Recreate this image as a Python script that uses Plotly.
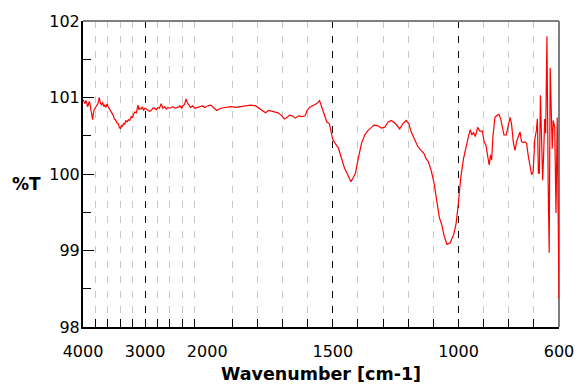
import plotly.graph_objects as go

# High-wavenumber region (4000-2000 cm-1), compressed scale
wn_hi = [4000, 3984, 3968, 3955, 3941, 3928, 3915, 3900, 3888, 3875, 3861, 3845, 3835, 3824,
         3805, 3781, 3760, 3739, 3728, 3717, 3700, 3685, 3665, 3648, 3630, 3611, 3595, 3579,
         3560, 3541, 3528, 3515, 3495, 3472, 3455, 3435, 3415, 3397, 3380, 3365, 3345, 3328,
         3310, 3291, 3270, 3248, 3225, 3205, 3185, 3168, 3141, 3115, 3100, 3088, 3065, 3045,
         3025, 3008, 2980, 2955, 2930, 2901, 2875, 2848, 2820, 2795, 2770, 2741, 2715, 2688,
         2660, 2635, 2600, 2555, 2520, 2475, 2440, 2410, 2395, 2365, 2341, 2320, 2299, 2270,
         2235, 2200, 2155, 2120, 2075, 2040, 2000]
t_hi = [100.97, 100.93, 100.92, 100.96, 100.94, 100.88, 100.90, 100.95, 100.92, 100.85, 100.77,
        100.71, 100.78, 100.83, 100.86, 100.90, 100.92, 101.00, 100.94, 100.92, 100.90, 100.94,
        100.88, 100.90, 100.87, 100.92, 100.88, 100.86, 100.84, 100.81, 100.79, 100.77, 100.72,
        100.70, 100.67, 100.66, 100.61, 100.59, 100.64, 100.62, 100.66, 100.65, 100.70, 100.68,
        100.71, 100.70, 100.75, 100.74, 100.78, 100.81, 100.80, 100.90, 100.84, 100.86, 100.85,
        100.88, 100.83, 100.86, 100.85, 100.84, 100.82, 100.83, 100.86, 100.86, 100.84, 100.87,
        100.86, 100.92, 100.86, 100.88, 100.85, 100.87, 100.86, 100.88, 100.86, 100.87, 100.89,
        100.86, 100.89, 100.91, 100.98, 100.93, 100.90, 100.87, 100.89, 100.86, 100.87, 100.88,
        100.89, 100.87, 100.89]

# Low-wavenumber region (2000-600 cm-1), expanded scale
wn_lo = [2000, 1985, 1975, 1962, 1946, 1926, 1906, 1887, 1867, 1847, 1827, 1807, 1794, 1781,
         1768, 1755, 1735, 1719, 1706, 1693, 1683, 1672, 1663, 1649, 1636, 1623, 1610, 1603,
         1593, 1577, 1564, 1553, 1544, 1535, 1524, 1514, 1501, 1491, 1478, 1465, 1454, 1441,
         1428, 1419, 1410, 1399, 1386, 1373, 1360, 1346, 1336, 1320, 1307, 1294, 1280, 1267,
         1251, 1234, 1221, 1208, 1198, 1188, 1175, 1162, 1149, 1138, 1129, 1120, 1109, 1096,
         1086, 1076, 1067, 1057, 1046, 1033, 1019, 1010, 1001, 991, 980, 967, 959, 953, 947,
         940, 933, 924, 915, 905, 898, 891, 885, 878, 872, 868, 863, 855, 845, 839, 832, 826,
         819, 810, 802, 795, 789, 782, 775, 769, 762, 755, 749, 742, 735, 729, 722, 715, 709,
         703, 696, 690, 686, 682, 678, 674, 670, 665, 661, 657, 653, 648, 643, 639, 635, 631,
         627, 623, 617, 612, 607, 600]
t_lo = [100.89, 100.90, 100.87, 100.83, 100.86, 100.87, 100.88, 100.87, 100.88, 100.89, 100.90,
        100.89, 100.86, 100.82, 100.80, 100.83, 100.81, 100.80, 100.77, 100.72, 100.74, 100.77,
        100.76, 100.73, 100.76, 100.75, 100.76, 100.83, 100.87, 100.90, 100.92, 100.96, 100.87,
        100.79, 100.68, 100.66, 100.46, 100.40, 100.34, 100.20, 100.08, 99.99, 99.90, 99.95,
        100.01, 100.20, 100.40, 100.51, 100.57, 100.61, 100.64, 100.63, 100.60, 100.61, 100.68,
        100.70, 100.66, 100.59, 100.66, 100.70, 100.66, 100.55, 100.46, 100.36, 100.31, 100.27,
        100.20, 100.16, 100.05, 99.86, 99.64, 99.43, 99.34, 99.19, 99.08, 99.10, 99.21, 99.34,
        99.60, 99.95, 100.20, 100.42, 100.51, 100.58, 100.51, 100.54, 100.49, 100.61, 100.56,
        100.56, 100.42, 100.38, 100.27, 100.12, 100.25, 100.18, 100.49, 100.74, 100.77, 100.78,
        100.72, 100.64, 100.51, 100.51, 100.66, 100.74, 100.66, 100.42, 100.31, 100.42, 100.49,
        100.55, 100.42, 100.41, 100.42, 100.40, 100.23, 100.08, 99.99, 100.03, 100.46, 100.57,
        100.72, 100.01, 100.01, 101.03, 100.61, 99.92, 100.27, 100.72, 100.53, 101.80, 99.84,
        98.97, 101.39, 100.70, 100.33, 100.70, 100.61, 99.49, 100.74, 98.37]

hi_labels = [4000, 3000]
lo_labels = [2000, 1500, 1000, 600]
y_labels = [98, 99, 100, 101, 102]

SPLIT = 125 / 479
FONT = "DejaVu Sans"
DASH = "7px,8px"
line_style = dict(color="#ff0000", width=1.2)

fig = go.Figure()
fig.add_trace(go.Scatter(x=wn_hi, y=t_hi, xaxis="x", yaxis="y", mode="lines",
                         line=line_style, showlegend=False, hoverinfo="skip"))
fig.add_trace(go.Scatter(x=wn_lo, y=t_lo, xaxis="x2", yaxis="y", mode="lines",
                         line=line_style, showlegend=False, hoverinfo="skip"))

tickfont = dict(family=FONT, size=16, color="black")

common_x = dict(anchor="y", showline=True, linecolor="black", linewidth=2,
                ticks="inside", ticklen=8, tickcolor="black", tickwidth=1,
                showgrid=True, gridcolor="black", gridwidth=1, griddash=DASH,
                zeroline=False, tickfont=tickfont, fixedrange=True,
                ticklabelstandoff=9)

fig.update_layout(
    width=586, height=385,
    margin=dict(l=83, r=24, t=18, b=58),
    paper_bgcolor="white", plot_bgcolor="white",
    xaxis=dict(domain=[0, SPLIT], range=[4000, 2000], tickmode="array",
               tickvals=hi_labels, ticktext=[str(v) for v in hi_labels],
               minor=dict(tick0=2000, dtick=200, ticks="inside", ticklen=8,
                          tickcolor="black", showgrid=True, gridcolor="#c8c8c8",
                          griddash=DASH, gridwidth=1),
               **common_x),
    xaxis2=dict(domain=[SPLIT, 1], range=[2000, 600], tickmode="array",
                tickvals=lo_labels, ticktext=[str(v) for v in lo_labels],
                minor=dict(tick0=0, dtick=100, ticks="inside", ticklen=8,
                           tickcolor="black", showgrid=True, gridcolor="#c8c8c8",
                           griddash=DASH, gridwidth=1),
                **common_x),
    yaxis=dict(anchor="x", range=[98, 102], tickmode="array", tickvals=y_labels,
               ticktext=[str(v) for v in y_labels],
               showline=True, linecolor="black", linewidth=2,
               ticks="inside", ticklen=11, tickcolor="black", tickwidth=1,
               minor=dict(tick0=98, dtick=0.5, ticks="inside", ticklen=8,
                          tickcolor="black", showgrid=False),
               showgrid=False, zeroline=False, tickfont=tickfont, fixedrange=True,
               ticklabelstandoff=-2),
    shapes=[
        dict(type="line", xref="paper", yref="paper", x0=0, x1=1, y0=1, y1=1,
             line=dict(color="#7f7f7f", width=2), layer="above"),
        dict(type="line", xref="paper", yref="paper", x0=1, x1=1, y0=0, y1=1,
             line=dict(color="#7f7f7f", width=2), layer="below"),
    ],
    annotations=[
        dict(text="<b>Wavenumber [cm-1]</b>", xref="paper", yref="paper", x=0.5, y=-0.155,
             xanchor="center", yanchor="middle", showarrow=False,
             font=dict(family=FONT, size=17.5, color="black")),
        dict(text="<b>%T</b>", xref="paper", yref="paper", x=-0.119, y=0.466,
             xanchor="center", yanchor="middle", showarrow=False,
             font=dict(family=FONT, size=17, color="black")),
    ],
)

fig.write_html(
    "out.html",
    config={"displayModeBar": False},
    post_script="document.body.style.margin='0px';document.body.style.overflow='hidden';",
)
